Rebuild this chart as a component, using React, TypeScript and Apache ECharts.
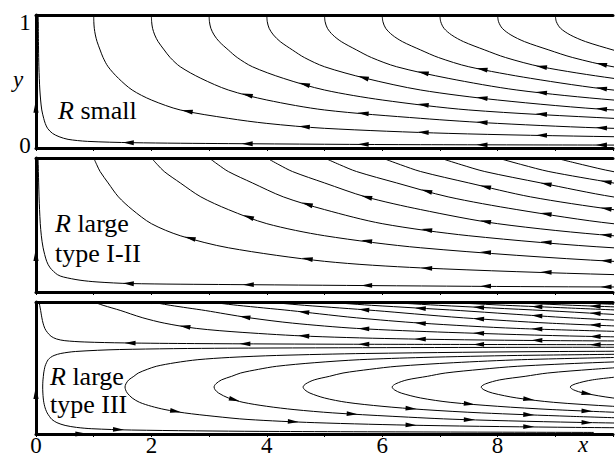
import React, { useEffect, useRef } from 'react';
import * as echarts from 'echarts';

// ---------- data ----------
const X_MAX = 10;
const X_TICK_VALUES = [0, 2, 4, 6, 8];
const X_TICK_LABELS = ['0', '2', '4', '6', '8'];
const Y_TICK_LABELS = ['0', '1'];

// Panel 1 (R small): stream function psi = x * f(y); profile samples (top -> bottom)
const P1_Y = [1, 0.95, 0.9, 0.85, 0.8, 0.737, 0.68, 0.611, 0.524, 0.436, 0.361, 0.286, 0.223, 0.185, 0.148, 0.11, 0.085, 0.065, 0.05, 0.04, 0.033, 0.025, 0.015];
const P1_F = [1, 0.998, 0.99, 0.972, 0.945, 0.9, 0.86, 0.8, 0.7, 0.6, 0.5, 0.4, 0.3, 0.25, 0.2, 0.14, 0.1, 0.072, 0.045, 0.024, 0.012, 0.006, 0.002];
const P1_LEVELS = [0.04, 1, 2, 3, 4, 5, 6, 7, 8, 9];
const P1_ARROW_X = [1.6, 2.62, 3.66, 4.65, 5.67, 6.71, 7.73, 8.76, 9.8];

// Panel 2 (R large, type I-II)
const P2_Y = [1, 0.95, 0.899, 0.814, 0.71, 0.615, 0.51, 0.42, 0.33, 0.229, 0.18, 0.13, 0.112, 0.088, 0.075, 0.063, 0.0555, 0.0375, 0.02];
const P2_F = [1, 0.95, 0.9, 0.8, 0.7, 0.6, 0.5, 0.4, 0.3, 0.2, 0.15, 0.1, 0.078, 0.0485, 0.035, 0.0227, 0.011, 0.0037, 0.001];
const P2_LEVELS = [0.037, 1, 2, 3, 4, 5, 6, 7, 8, 9];
const P2_ARROW_X = [1.6, 2.67, 3.68, 4.7, 5.73, 6.77, 7.79, 8.84, 9.88];

// Panel 3 (R large, type III): upper cell (psi > 0)
const P3U_Y = [1, 0.99, 0.975, 0.955, 0.935, 0.91, 0.88, 0.84, 0.8, 0.77, 0.74, 0.72, 0.707, 0.697, 0.69, 0.685, 0.68, 0.674, 0.669];
const P3U_F = [1, 0.94, 0.86, 0.76, 0.68, 0.61, 0.54, 0.45, 0.36, 0.28, 0.21, 0.155, 0.11, 0.065, 0.036, 0.02, 0.01, 0.004, 0.001];
const P3U_LEVELS = [0.055, 1, 2, 3, 4, 5, 6, 7, 8, 9];
const P3U_ARROW_X = [1.63, 2.58, 3.62, 4.64, 5.68, 6.66, 7.67, 8.68, 9.69];

// Panel 3 lower cell (psi < 0): normalised |f| on both sides of its maximum
const P3C_UP_Y = [0.356, 0.38, 0.41, 0.437, 0.462, 0.49, 0.513, 0.54, 0.563, 0.58, 0.595, 0.61, 0.625, 0.64, 0.65, 0.657, 0.662];
const P3C_UP_G = [1, 0.99, 0.96, 0.91, 0.87, 0.8, 0.74, 0.64, 0.55, 0.46, 0.37, 0.27, 0.17, 0.08, 0.035, 0.012, 0.003];
const P3C_LO_Y = [0.356, 0.335, 0.31, 0.273, 0.24, 0.21, 0.185, 0.16, 0.134, 0.11, 0.086, 0.065, 0.05, 0.04, 0.03, 0.02, 0.012];
const P3C_LO_G = [1, 0.994, 0.975, 0.926, 0.86, 0.772, 0.69, 0.6, 0.5, 0.42, 0.32, 0.23, 0.165, 0.12, 0.07, 0.03, 0.012];
const P3C_VERTEX_X = [0.116, 1.543, 3.086, 4.629, 6.172, 7.715, 9.258];
const P3C_ARROW_X = [1.43, 2.42, 3.44, 4.46, 5.48, 6.5, 7.51, 8.54, 9.55];

// wall arrows: [panel, x, y, dirX, dirY]
const WALL_ARROWS = [
  [0, 0, 0.314, 0, 1],
  [1, 0, 0.279, 0, 1],
  [2, 0, 0.315, 0, 1],
  [2, 0.794, 0, 1, 0],
];

// ---------- helpers ----------
const FONT = 'Liberation Serif';
const FS = 26;
const FS_TICK = 23;

function branchPoints(ys: number[], fs: number[], c: number): number[][] {
  const pts: number[][] = [];
  for (let i = 0; i < ys.length; i++) {
    const x = c / fs[i];
    pts.push([x, ys[i]]);
    if (x > X_MAX) break;
  }
  return pts;
}

function arrowOn(pts: number[][], xa: number, forward: boolean, len: number, hw: number) {
  for (let i = 0; i < pts.length - 1; i++) {
    const [x0, y0] = pts[i];
    const [x1, y1] = pts[i + 1];
    if (xa >= x0 && xa <= x1) {
      const t = (xa - x0) / (x1 - x0);
      const ya = y0 + t * (y1 - y0);
      const s = forward ? 0.05 : -0.05;
      return [xa, ya, xa + s * (x1 - x0), ya + s * (y1 - y0), len, hw];
    }
  }
  return null;
}

const GRIDS = [
  { left: 36, top: 15, width: 577, height: 133 },
  { left: 36, top: 158, width: 577, height: 134 },
  { left: 36, top: 302, width: 577, height: 132 },
];

function lineSeries(gi: number, pts: number[][]) {
  return {
    type: 'line',
    xAxisIndex: gi,
    yAxisIndex: gi,
    data: pts,
    symbol: 'none',
    showSymbol: false,
    smooth: 0.3,
    clip: true,
    silent: true,
    lineStyle: { color: '#000', width: 1 },
    z: 2,
  };
}

function arrowSeries(gi: number, data: number[][]) {
  return {
    type: 'custom',
    xAxisIndex: gi,
    yAxisIndex: gi,
    data,
    clip: false,
    silent: true,
    z: 5,
    encode: { x: 0, y: 1 },
    renderItem: (_p: any, api: any) => {
      const p = api.coord([api.value(0), api.value(1)]);
      const q = api.coord([api.value(2), api.value(3)]);
      const len = api.value(4);
      const hw = api.value(5);
      let dx = q[0] - p[0];
      let dy = q[1] - p[1];
      const L = Math.hypot(dx, dy) || 1;
      dx /= L;
      dy /= L;
      const tip = [p[0] + (dx * len) / 2, p[1] + (dy * len) / 2];
      const bx = p[0] - (dx * len) / 2;
      const by = p[1] - (dy * len) / 2;
      return {
        type: 'polygon',
        shape: { points: [tip, [bx - dy * hw, by + dx * hw], [bx + dy * hw, by - dx * hw]] },
        style: { fill: '#000', stroke: null },
      };
    },
  };
}

function topPanel(gi: number, ys: number[], fs: number[], levels: number[], arrowX: number[]) {
  const series: any[] = [];
  const arrows: number[][] = [];
  levels.forEach((c, k) => {
    const pts = branchPoints(ys, fs, c);
    series.push(lineSeries(gi, pts));
    arrowX.forEach((xa, i) => {
      if (i >= k && (i - k) % 2 === 0) {
        const a = arrowOn(pts, xa, false, 11, 2.4);
        if (a) arrows.push(a);
      }
    });
  });
  return { series, arrows };
}

const txt = (x: number, y: number, text: string, extra: any = {}) => ({
  type: 'text',
  x,
  y,
  silent: true,
  style: {
    text,
    fill: '#000',
    fontFamily: FONT,
    fontSize: FS,
    align: 'left',
    verticalAlign: 'middle',
    ...extra,
  },
});

function buildOption() {
  const series: any[] = [];
  const arrowsByGrid: number[][][] = [[], [], []];

  const p1 = topPanel(0, P1_Y, P1_F, P1_LEVELS, P1_ARROW_X);
  const p2 = topPanel(1, P2_Y, P2_F, P2_LEVELS, P2_ARROW_X);
  const p3 = topPanel(2, P3U_Y, P3U_F, P3U_LEVELS, P3U_ARROW_X);
  series.push(...p1.series, ...p2.series, ...p3.series);
  arrowsByGrid[0].push(...p1.arrows);
  arrowsByGrid[1].push(...p2.arrows);
  arrowsByGrid[2].push(...p3.arrows);

  P3C_VERTEX_X.forEach((v, k) => {
    const up = branchPoints(P3C_UP_Y, P3C_UP_G, v);
    const lo = branchPoints(P3C_LO_Y, P3C_LO_G, v);
    const pts = [...up.slice().reverse(), ...lo.slice(1)];
    series.push(lineSeries(2, pts));
    P3C_ARROW_X.forEach((xa, i) => {
      if ((i - k) % 2 === 0 && i >= k && xa > v + 0.2) {
        const a = arrowOn(lo, xa, true, 11, 2.4);
        if (a && a[1] >= 0.025) arrowsByGrid[2].push(a);
      }
    });
  });

  WALL_ARROWS.forEach(([g, x, y, ux, uy]) => {
    arrowsByGrid[g].push([x, y, x + ux * 0.1, y + uy * 0.1, 13, 2.6]);
  });

  arrowsByGrid.forEach((d, gi) => series.push(arrowSeries(gi, d)));

  const bottomAxes = GRIDS.map((_, i) => ({
    gridIndex: i,
    type: 'value',
    min: 0,
    max: X_MAX,
    interval: 1,
    position: 'bottom',
    axisLine: { show: true, onZero: false, lineStyle: { color: '#000', width: 3 } },
    axisTick: { show: true, inside: false, length: 3, lineStyle: { color: '#000', width: 1 } },
    axisLabel: { show: false },
    splitLine: { show: false },
  }));
  const topAxes = GRIDS.map((_, i) => ({
    gridIndex: i,
    type: 'value',
    min: 0,
    max: X_MAX,
    position: 'top',
    axisLine: { show: true, onZero: false, lineStyle: { color: '#000', width: 3 } },
    axisTick: { show: false },
    axisLabel: { show: false },
    splitLine: { show: false },
  }));
  const yAxes = GRIDS.map((_, i) => ({
    gridIndex: i,
    type: 'value',
    min: 0,
    max: 1,
    interval: 1,
    axisLine: { show: true, onZero: false, lineStyle: { color: '#000', width: 3 } },
    axisTick: { show: false },
    axisLabel: { show: false },
    splitLine: { show: false },
  }));

  const rich = {
    i: { fontFamily: FONT, fontSize: FS, fontStyle: 'italic' },
    n: { fontFamily: FONT, fontSize: FS },
  };

  return {
    animation: false,
    backgroundColor: '#fff',
    grid: GRIDS.map((g) => ({ ...g, containLabel: false })),
    xAxis: [...bottomAxes, ...topAxes],
    yAxis: yAxes,
    series,
    graphic: [
      txt(25, 22, Y_TICK_LABELS[1], { align: 'center', fontSize: FS_TICK }),
      txt(25, 145.5, Y_TICK_LABELS[0], { align: 'center', fontSize: FS_TICK }),
      txt(18, 79, 'y', { align: 'center', fontStyle: 'italic', fontSize: FS_TICK }),
      txt(58, 110.5, '{i|R}{n| small}', { rich }),
      txt(55, 223, '{i|R}{n| large}', { rich }),
      txt(55, 253, 'type I-II'),
      txt(50, 376, '{i|R}{n| large}', { rich }),
      txt(50, 404.5, 'type III'),
    ],
  };
}

export default function App() {
  const ref = useRef<HTMLDivElement>(null);
  useEffect(() => {
    document.body.style.margin = '0';
    const chart = echarts.init(ref.current as HTMLDivElement, undefined, { renderer: 'svg' });
    const option: any = buildOption();
    chart.setOption(option);
    // x tick labels placed through the bottom panel's own x scale
    const tickTexts = X_TICK_VALUES.map((v, i) => {
      const px = chart.convertToPixel({ xAxisIndex: 2, yAxisIndex: 2 } as any, [v, 0]) as number[];
      return txt(px[0], px[1] + 11.5, X_TICK_LABELS[i], { align: 'center', fontSize: FS_TICK });
    });
    const xName = chart.convertToPixel({ xAxisIndex: 2, yAxisIndex: 2 } as any, [9.48, 0]) as number[];
    chart.setOption({
      graphic: [
        ...option.graphic,
        ...tickTexts,
        txt(xName[0], xName[1] + 10.5, 'x', { align: 'center', fontStyle: 'italic', fontSize: FS_TICK }),
      ],
    });
    return () => chart.dispose();
  }, []);
  return <div ref={ref} style={{ width: 616, height: 457 }} />;
}
